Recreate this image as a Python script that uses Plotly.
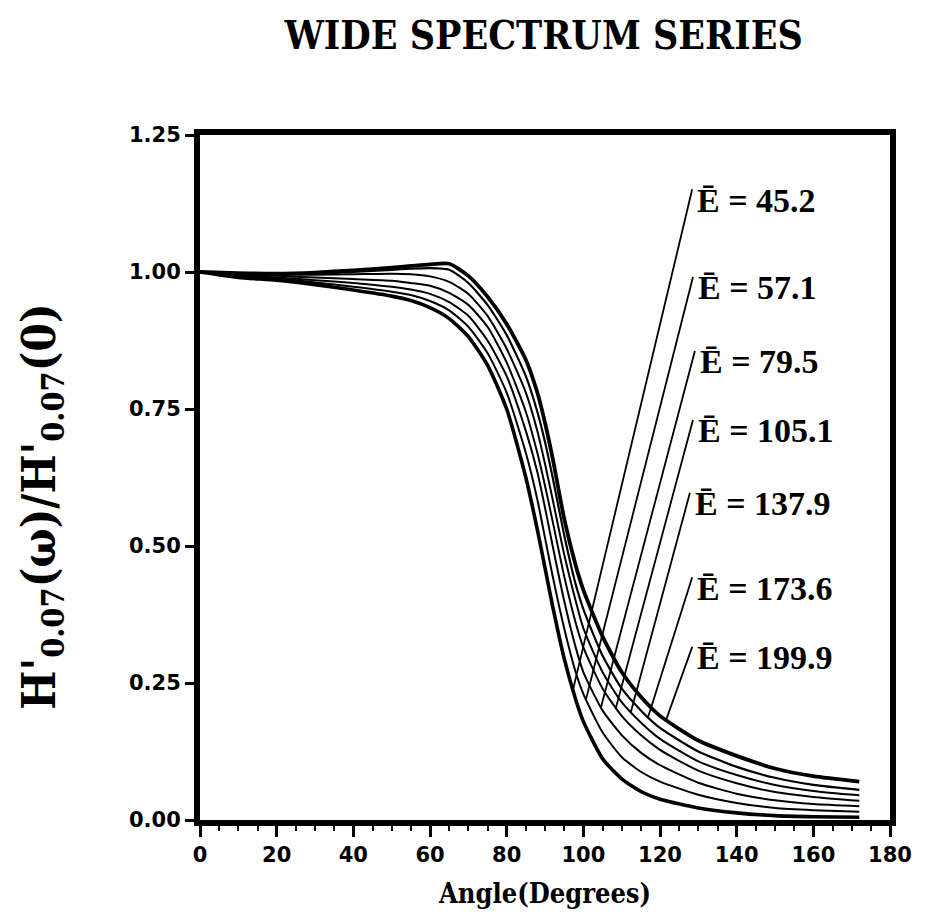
import numpy as np
import plotly.graph_objects as go

# ---------------- data ----------------
angles = [0, 10, 20, 30, 40, 50, 55, 60, 65, 70, 75, 80, 85, 88, 90, 92, 95, 98,
          100, 105, 110, 115, 120, 130, 140, 150, 160, 172]

e_labels = ["45.2", "57.1", "79.5", "105.1", "137.9", "173.6", "199.9"]

h_e45 = [1.0, 0.99, 0.985, 0.977, 0.967, 0.956, 0.948, 0.935, 0.915, 0.882, 0.83, 0.75,
         0.625, 0.53, 0.46, 0.39, 0.295, 0.22, 0.18, 0.112, 0.075, 0.052, 0.038, 0.022,
         0.013, 0.008, 0.006, 0.005]
h_e57 = [1.0, 0.992, 0.988, 0.981, 0.973, 0.964, 0.958, 0.947, 0.93, 0.90, 0.852, 0.78,
         0.67, 0.585, 0.515, 0.445, 0.35, 0.27, 0.23, 0.16, 0.115, 0.088, 0.07, 0.046,
         0.031, 0.022, 0.018, 0.015]
h_e79 = [1.0, 0.994, 0.99, 0.985, 0.98, 0.973, 0.968, 0.96, 0.945, 0.92, 0.875, 0.81,
         0.71, 0.635, 0.57, 0.50, 0.40, 0.315, 0.27, 0.20, 0.155, 0.123, 0.10, 0.068,
         0.048, 0.036, 0.029, 0.025]
h_e105 = [1.0, 0.995, 0.993, 0.99, 0.987, 0.984, 0.98, 0.975, 0.962, 0.94, 0.90, 0.835,
          0.745, 0.67, 0.61, 0.545, 0.445, 0.36, 0.315, 0.24, 0.19, 0.155, 0.128, 0.09,
          0.067, 0.051, 0.042, 0.035]
h_e138 = [1.0, 0.996, 0.995, 0.995, 0.996, 0.997, 0.996, 0.992, 0.982, 0.96, 0.92, 0.86,
          0.78, 0.71, 0.65, 0.585, 0.485, 0.40, 0.35, 0.27, 0.215, 0.178, 0.148, 0.107,
          0.082, 0.064, 0.053, 0.045]
h_e174 = [1.0, 0.997, 0.996, 0.997, 1.0, 1.004, 1.006, 1.007, 1.004, 0.98, 0.94, 0.885,
          0.81, 0.745, 0.69, 0.625, 0.52, 0.43, 0.385, 0.30, 0.24, 0.20, 0.168, 0.125,
          0.097, 0.077, 0.064, 0.055]
h_e200 = [1.0, 0.998, 0.997, 0.999, 1.003, 1.008, 1.011, 1.014, 1.015, 0.993, 0.955, 0.905,
          0.84, 0.78, 0.725, 0.66, 0.55, 0.465, 0.42, 0.335, 0.27, 0.225, 0.19, 0.145,
          0.117, 0.094, 0.08, 0.07]

series = [h_e45, h_e57, h_e79, h_e105, h_e138, h_e174, h_e200]

# leader lines: angle on each curve the leader points to
leader_target_angle = [97.3, 100.7, 104.6, 108.5, 112.4, 116.9, 121.6]
# label anchor (data coords) where each leader starts
label_angle = [128.4, 128.6, 129.1, 128.6, 127.8, 128.4, 128.4]
label_level = [1.151, 0.991, 0.856, 0.730, 0.597, 0.443, 0.316]

x_ticks = [0, 20, 40, 60, 80, 100, 120, 140, 160, 180]
y_ticks = [0.0, 0.25, 0.5, 0.75, 1.0, 1.25]
y_ticktext = ["0.00", "0.25", "0.50", "0.75", "1.00", "1.25"]

# ---------------- figure ----------------
fig = go.Figure()
widths = [3.6, 2.0, 2.0, 2.0, 2.0, 2.2, 3.8]
for vals, w, lab in zip(series, widths, e_labels):
    fig.add_trace(go.Scatter(x=angles, y=vals, mode="lines",
                             line=dict(color="black", width=w, shape="spline", smoothing=0.6),
                             name=lab, showlegend=False, hoverinfo="skip"))

for i, lab in enumerate(e_labels):
    ta = leader_target_angle[i]
    tv = float(np.interp(ta, angles, series[i]))
    fig.add_trace(go.Scatter(x=[label_angle[i], ta], y=[label_level[i], tv], mode="lines",
                             line=dict(color="black", width=1.8),
                             showlegend=False, hoverinfo="skip"))
    fig.add_annotation(x=label_angle[i], y=label_level[i], xref="x", yref="y",
                       text="<b>\u0112 = " + lab + "</b>", showarrow=False,
                       xanchor="left", yanchor="middle", xshift=3, yshift=-11,
                       font=dict(family="Liberation Serif", size=34, color="black"))

axis_font = dict(family="DejaVu Sans", size=21, color="black", weight="bold")
title_family = "DejaVu Serif Condensed, DejaVu Serif, serif"
fig.update_xaxes(range=[0, 180], tickvals=x_ticks, ticktext=[str(t) for t in x_ticks],
                 ticks="outside", ticklen=11, tickwidth=2.5, tickcolor="black",
                 minor=dict(dtick=5, ticks="outside", ticklen=5, tickwidth=1.5, tickcolor="black"),
                 showline=True, linewidth=6, linecolor="black", mirror=True,
                 showgrid=False, zeroline=False, tickfont=axis_font, automargin=False,
                 title=dict(text="<b>Angle(Degrees)</b>", standoff=20,
                            font=dict(family=title_family, size=27, color="black")))
fig.update_yaxes(range=[0, 1.25], tickvals=y_ticks, ticktext=y_ticktext,
                 ticks="outside", ticklen=9, tickwidth=2.5, tickcolor="black",
                 showline=True, linewidth=6, linecolor="black", mirror=True,
                 showgrid=False, zeroline=False, tickfont=axis_font, automargin=False)

# y-axis title as rotated text (sits slightly below the plot's middle, as in the original)
fig.add_annotation(xref="paper", yref="paper", x=-0.228, y=0.457, showarrow=False,
                   textangle=-90, xanchor="center", yanchor="middle",
                   text="<b>H'<sub>0.07</sub>(\u03c9)/H'<sub>0.07</sub>(0)</b>",
                   font=dict(family=title_family, size=46, color="black"))

fig.update_layout(
    width=914, height=908,
    margin=dict(l=192, r=32, t=127, b=96),
    plot_bgcolor="white", paper_bgcolor="white",
    title=dict(text="<b>WIDE SPECTRUM SERIES</b>", x=0.586, xanchor="center", y=0.970, yanchor="middle",
               font=dict(family=title_family, size=39, color="black")),
)

fig.write_html("out.html")
